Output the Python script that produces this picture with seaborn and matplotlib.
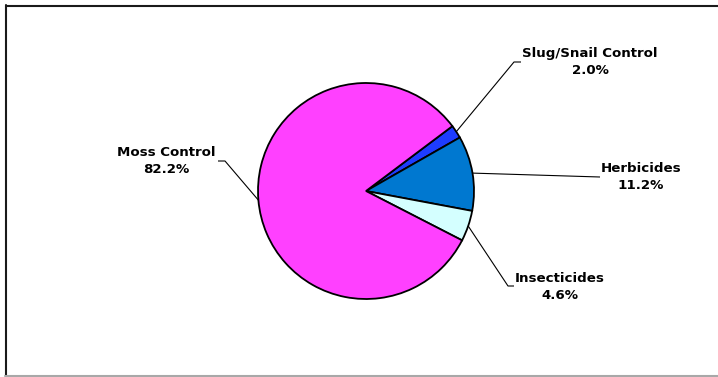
import matplotlib
matplotlib.use("Agg")
import matplotlib.pyplot as plt
from matplotlib.lines import Line2D
import numpy as np
import seaborn as sns

# Share of product categories
categories = ["Slug/Snail Control", "Herbicides", "Insecticides", "Moss Control"]
shares = [2.0, 11.2, 4.6, 82.2]
colors = ["#1E3CFF", "#0078D0", "#D4FFFF", "#FF40FF"]

sns.set_theme(style="white")
plt.rcParams["font.family"] = ["DejaVu Sans"]

W, H = 718, 377
fig = plt.figure(figsize=(W / 100, H / 100), dpi=100)
ax = fig.add_axes([0, 0, 1, 1])

cx, cy, r = 366, H - 191, 108
start = 36.9
wedges, _ = ax.pie(
    shares, colors=colors, startangle=start, counterclock=False,
    center=(cx, cy), radius=r, frame=True,
    wedgeprops=dict(edgecolor="black", linewidth=1.3),
)
ax.set_xlim(0, W)
ax.set_ylim(0, H)
ax.set_aspect("equal")
ax.axis("off")

# label layout: elbow point, stub end, text anchor (pixel coords, y downward)
layout = {
    "Slug/Snail Control": dict(elbow=(514, 62), stub=(521, 62), text=(590, 62)),
    "Herbicides": dict(elbow=(600, 177), stub=(600, 177), text=(641, 177)),
    "Insecticides": dict(elbow=(508, 286), stub=(514, 286), text=(560, 287)),
    "Moss Control": dict(elbow=(225, 161), stub=(218, 161), text=(166, 161)),
}

for w, name, val in zip(wedges, categories, shares):
    mid = np.deg2rad((w.theta1 + w.theta2) / 2)
    x0, y0 = cx + r * np.cos(mid), cy + r * np.sin(mid)
    L = layout[name]
    ex, ey = L["elbow"][0], H - L["elbow"][1]
    sx, sy = L["stub"][0], H - L["stub"][1]
    ax.plot([x0, ex, sx], [y0, ey, sy], color="black", linewidth=0.8,
            solid_capstyle="butt", zorder=3)
    tx, ty = L["text"][0], H - L["text"][1]
    ax.text(tx, ty, f"{name}\n{val:.1f}%", ha="center", va="center",
            multialignment="center", fontsize=9.6, fontweight="bold",
            linespacing=1.35, color="black")

# chart frame
fig.add_artist(Line2D([5.5 / W, 1], [1 - 5.5 / H, 1 - 5.5 / H],
                      transform=fig.transFigure, color="#1a1a1a", linewidth=1.5))
fig.add_artist(Line2D([5.5 / W, 5.5 / W], [1 - 5 / H, 1 / H],
                      transform=fig.transFigure, color="#1a1a1a", linewidth=1.5))
fig.add_artist(Line2D([5 / W, 1], [1.5 / H, 1.5 / H],
                      transform=fig.transFigure, color="#a8a8a8", linewidth=1.5))

fig.savefig("out.png", dpi=100, facecolor="white")
